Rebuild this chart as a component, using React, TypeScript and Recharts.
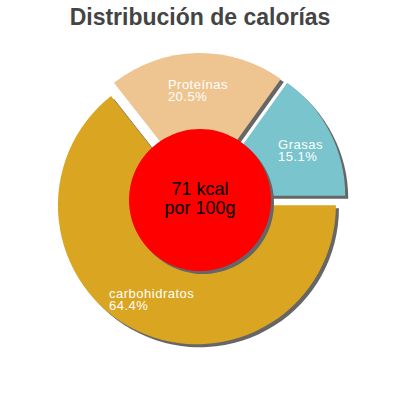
import { PieChart, Pie, Cell, Sector } from "recharts";

const names = ["carbohidratos", "Proteínas", "Grasas"];
const shares = [64.4, 20.5, 15.1];
const colors = ["#DAA520", "#EEC591", "#7AC5CD"];
const centerLines = ["71 kcal", "por 100g"];
const title = "Distribución de calorías";

const data = names.map((name, i) => ({ name, value: shares[i] }));

const RAD = Math.PI / 180;
const EXPLODE = 7;
const FONT = "'Liberation Sans', Arial, sans-serif";

// pushes each slice outward along its own mid angle
function explodedSector(props: any) {
  const { cx, cy, midAngle } = props;
  return (
    <Sector
      {...props}
      cx={cx + EXPLODE * Math.cos(-midAngle * RAD)}
      cy={cy + EXPLODE * Math.sin(-midAngle * RAD)}
    />
  );
}

function sliceLabel(props: any) {
  const { cx, cy, midAngle, name, value } = props;
  const r = 110;
  const px = cx + r * Math.cos(-midAngle * RAD);
  const py = cy + r * Math.sin(-midAngle * RAD);
  const w = name.length * 6.6;
  const x = px - w / 2;
  return (
    <text x={x} y={py} fill="#fff" fontSize={13} letterSpacing={0.5} fontFamily={FONT} textAnchor="start">
      <tspan x={x} dy={0}>{name}</tspan>
      <tspan x={x} dy={12}>{value.toFixed(1)}%</tspan>
    </text>
  );
}

function centerLabel(props: any) {
  const { cx, cy } = props;
  return (
    <text x={cx} y={cy} textAnchor="middle" fontSize={18} fontFamily={FONT} fill="#000">
      <tspan x={cx} dy={-5}>{centerLines[0]}</tspan>
      <tspan x={cx} dy={19}>{centerLines[1]}</tspan>
    </text>
  );
}

export default function App() {
  return (
    <div style={{ position: "absolute", left: 0, top: 0, width: 400, height: 400, background: "#fff" }}>
      <div
        style={{
          position: "absolute",
          top: 4,
          left: 0,
          width: 400,
          textAlign: "center",
          fontFamily: FONT,
          fontWeight: "bold",
          fontSize: 23,
          lineHeight: "26px",
          color: "#444",
        }}
      >
        {title}
      </div>
      <PieChart width={400} height={400} margin={{ top: 0, right: 0, bottom: 0, left: 0 }}>
        <Pie
          data={data}
          dataKey="value"
          nameKey="name"
          cx={203}
          cy={202}
          outerRadius={139}
          startAngle={0}
          endAngle={-360}
          stroke="none"
          fill="#666"
          shape={explodedSector}
          activeShape={explodedSector}
          isAnimationActive={false}
        />
        <Pie
          data={data}
          dataKey="value"
          nameKey="name"
          cx={200}
          cy={199}
          outerRadius={139}
          startAngle={0}
          endAngle={-360}
          stroke="none"
          shape={explodedSector}
          activeShape={explodedSector}
          label={sliceLabel}
          labelLine={false}
          isAnimationActive={false}
        >
          {data.map((d, i) => (
            <Cell key={d.name} fill={colors[i]} />
          ))}
        </Pie>
        <Pie
          data={[{ name: "shadow", value: 1 }]}
          dataKey="value"
          cx={203}
          cy={203}
          outerRadius={71}
          stroke="none"
          fill="#666"
          isAnimationActive={false}
        />
        <Pie
          data={[{ name: "kcal", value: 1 }]}
          dataKey="value"
          cx={200}
          cy={200}
          outerRadius={71}
          stroke="none"
          fill="#FF0000"
          label={centerLabel}
          labelLine={false}
          isAnimationActive={false}
        />
      </PieChart>
    </div>
  );
}
